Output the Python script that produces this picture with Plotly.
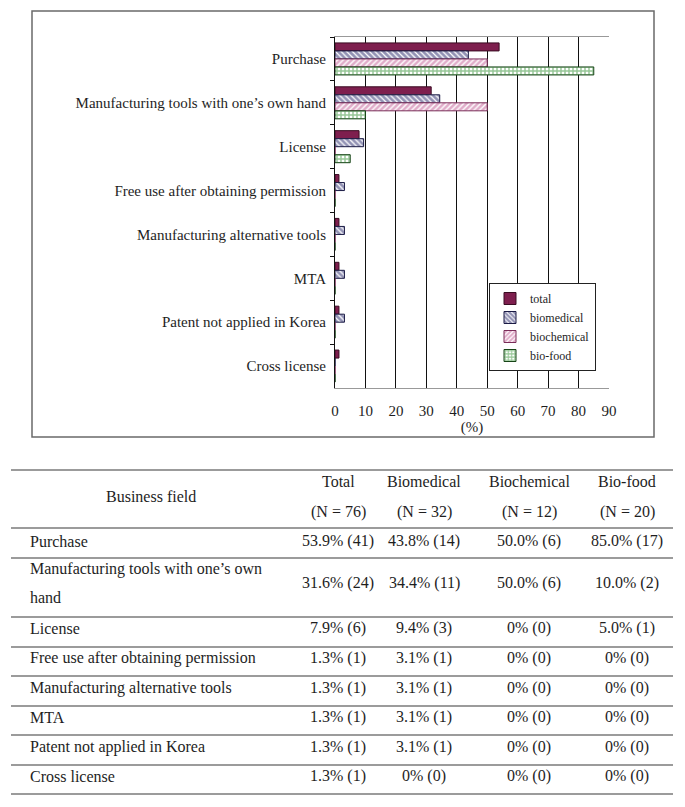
import plotly.graph_objects as go

# ---------------- data ----------------
categories = [
    "Purchase",
    "Manufacturing tools with one’s own hand",
    "License",
    "Free use after obtaining permission",
    "Manufacturing alternative tools",
    "MTA",
    "Patent not applied in Korea",
    "Cross license",
]
series_names = ["total", "biomedical", "biochemical", "bio-food"]
total_pct = [53.9, 31.6, 7.9, 1.3, 1.3, 1.3, 1.3, 1.3]
total_n = [41, 24, 6, 1, 1, 1, 1, 1]
biomed_pct = [43.8, 34.4, 9.4, 3.1, 3.1, 3.1, 3.1, 0]
biomed_n = [14, 11, 3, 1, 1, 1, 1, 0]
biochem_pct = [50.0, 50.0, 0, 0, 0, 0, 0, 0]
biochem_n = [6, 6, 0, 0, 0, 0, 0, 0]
biofood_pct = [85.0, 10.0, 5.0, 0, 0, 0, 0, 0]
biofood_n = [17, 2, 1, 0, 0, 0, 0, 0]

x_ticks = [0, 10, 20, 30, 40, 50, 60, 70, 80, 90]
x_title = "(%)"

table_first_header = "Business field"
column_headers = ["Total", "Biomedical", "Biochemical", "Bio-food"]
column_sizes = [76, 32, 12, 20]
table_row_labels = [
    ["Purchase"],
    ["Manufacturing tools with one’s own", "hand"],
    ["License"],
    ["Free use after obtaining permission"],
    ["Manufacturing alternative tools"],
    ["MTA"],
    ["Patent not applied in Korea"],
    ["Cross license"],
]

# ---------------- styles ----------------
SERIF = "Liberation Serif, Times New Roman, serif"
TXT = "#1e1e1e"

PAGE_W, PAGE_H = 685, 807
OFF = 8                               # page body margin
PL, PR, PT, PB = 335, 609, 37, 388   # plot area in page pixels
W, H = PAGE_W - OFF, PAGE_H - OFF


def X(px):
    return (px - PL) / (PR - PL)


def Y(py):
    return (PB - py) / (PB - PT)


styles = [
    dict(color="#7E1F4E", line=dict(color="#3a0c22", width=1)),
    dict(color="white", line=dict(color="#1a1a44", width=1),
         pattern=dict(shape="\\", fgcolor="#26266A", bgcolor="white", size=4, solidity=0.7)),
    dict(color="white", line=dict(color="#7a2d58", width=1),
         pattern=dict(shape="/", fgcolor="#C25A93", bgcolor="white", size=4, solidity=0.65)),
    dict(color="white", line=dict(color="#174417", width=1),
         pattern=dict(shape="+", fgcolor="#2F8F2F", bgcolor="white", size=4, solidity=0.6)),
]

series_values = [total_pct, biomed_pct, biochem_pct, biofood_pct]

fig = go.Figure()
for name, vals, st in zip(series_names, series_values, styles):
    fig.add_trace(go.Bar(
        y=categories, x=vals, name=name, orientation="h",
        marker=st, hoverinfo="x+y+name",
    ))

fig.update_layout(
    width=W, height=H,
    margin=dict(l=PL - OFF, r=PAGE_W - PR, t=PT - OFF, b=PAGE_H - PB),
    paper_bgcolor="white", plot_bgcolor="white",
    barmode="group", bargap=0.27, bargroupgap=0,
    font=dict(family=SERIF, color=TXT),
    showlegend=True,
    legend=dict(
        x=X(596), xanchor="right", y=Y(283), yanchor="top",
        bgcolor="white", bordercolor="#222", borderwidth=1,
        font=dict(family=SERIF, size=12, color=TXT),
        itemwidth=30, traceorder="normal", tracegroupgap=0,
    ),
    xaxis=dict(
        range=[0, 90], tickmode="array", tickvals=x_ticks,
        showgrid=True, gridcolor="#111", gridwidth=1,
        zeroline=False, showline=True, linecolor="#999", linewidth=1, mirror=True,
        ticks="", tickfont=dict(family=SERIF, size=15, color=TXT),
        ticklabelstandoff=9,
        title=dict(text=x_title, font=dict(family=SERIF, size=15, color=TXT), standoff=0),
    ),
    yaxis=dict(
        categoryorder="array", categoryarray=categories, autorange="reversed",
        ticks="outside", tickson="boundaries", ticklen=4, tickcolor="#111",
        showline=True, linecolor="#111", linewidth=1, showgrid=False,
        tickfont=dict(family=SERIF, size=15, color=TXT),
        ticklabelstandoff=5,
    ),
)

shapes = []
annotations = []

# chart frame
shapes.append(dict(type="rect", xref="paper", yref="paper",
                   x0=X(32), x1=X(654), y0=Y(437), y1=Y(11),
                   line=dict(color="#6a6a6a", width=1.5), fillcolor="rgba(0,0,0,0)", layer="below"))

# ---------------- table ----------------
TFONT = dict(family=SERIF, size=16, color=TXT)
line_ys = [470, 528, 558, 617, 647, 676, 706, 735, 765, 794]
for ly in line_ys:
    shapes.append(dict(type="line", xref="paper", yref="paper",
                       x0=X(11), x1=X(673), y0=Y(ly), y1=Y(ly),
                       line=dict(color="#7a7a7a", width=1.6)))

col_x = [338, 424, 529, 627]
label_x = 28


def ann(text, px, py, align="center"):
    annotations.append(dict(
        text=text, x=X(px), y=Y(py), xref="paper", yref="paper",
        xanchor=align, yanchor="middle", showarrow=False, font=TFONT,
    ))


ann(table_first_header, 151, 496)
for hx, hd, n in zip(col_x, column_headers, column_sizes):
    ann(hd, hx, 481)
    ann(f"(N = {n})", hx, 512)


def cell(v, n):
    return "0% (0)" if v == 0 else f"{v:.1f}% ({n})"


row_text_y = [[541], [569, 597], [628], [658], [688], [717], [747], [776]]
row_value_y = [541, 583, 628, 658, 688, 717, 747, 776]
counts = [total_n, biomed_n, biochem_n, biofood_n]
for i, lines in enumerate(table_row_labels):
    for t, ty in zip(lines, row_text_y[i]):
        ann(t, label_x, ty, align="left")
    for j in range(4):
        ann(cell(series_values[j][i], counts[j][i]), col_x[j], row_value_y[i])

fig.update_layout(shapes=shapes, annotations=annotations)
fig.write_html("out.html")
